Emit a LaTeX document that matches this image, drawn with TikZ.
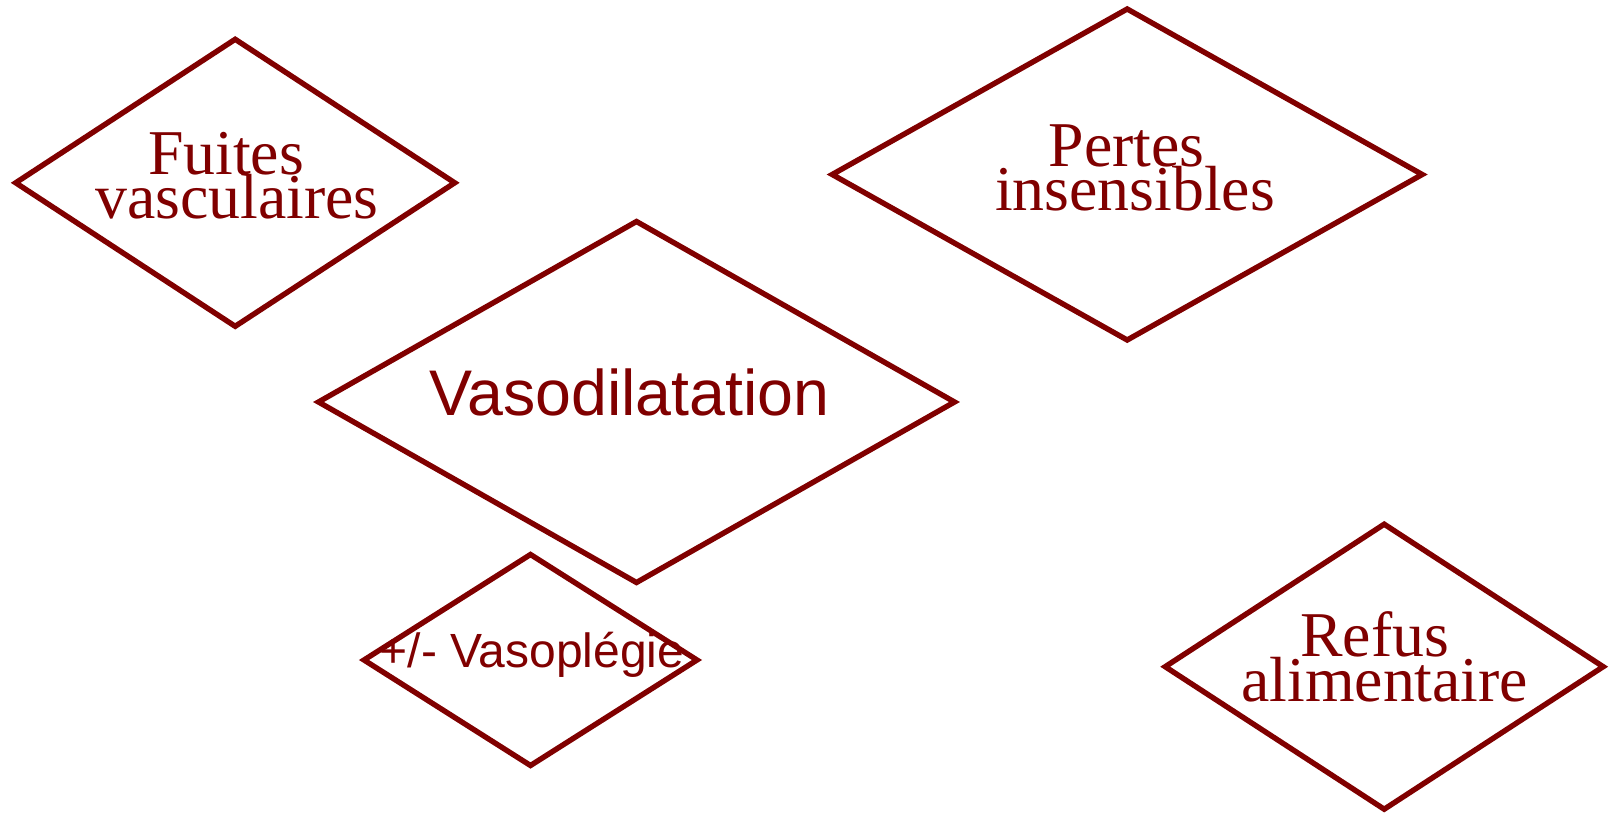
\documentclass[tikz,border=0pt]{standalone}
\usepackage{fontspec}
\setmainfont{Liberation Serif}
\newfontfamily\arialfont{Liberation Sans}
\usetikzlibrary{shapes.geometric}
\definecolor{dred}{HTML}{800000}
\begin{document}
\begin{tikzpicture}[x=1pt,y=-1pt,
  dbox/.style={diamond, draw=dred, line width=5.4pt, inner sep=0pt, outer sep=0pt, aspect=1},
  sertext/.style={anchor=base, inner sep=0pt, text=dred, font=\fontsize{63.8}{63.8}\selectfont},
  bigsans/.style={anchor=base, inner sep=0pt, text=dred, font=\arialfont\fontsize{64.5}{64.5}\selectfont},
  smallsans/.style={anchor=base, inner sep=0pt, text=dred, font=\arialfont\fontsize{48}{48}\selectfont}]
\useasboundingbox (0,0) rectangle (1612,813);
% diamonds
\node[dbox, minimum width=439pt, minimum height=287pt] (fuites) at (235.2,182.8) {};
\node[dbox, minimum width=590pt, minimum height=331pt] (pertes) at (1127.2,174.5) {};
\node[dbox, minimum width=636pt, minimum height=361pt] (vaso) at (636.5,402) {};
\node[dbox, minimum width=333pt, minimum height=211pt] (plegie) at (530.5,660) {};
\node[dbox, minimum width=438pt, minimum height=285pt] (refus) at (1384.2,666.7) {};
% texts
\node[sertext] (fuitesA) at (226,175) {Fuites};
\node[sertext] (fuitesB) at (237,219) {vasculaires};
\node[sertext] (pertesA) at (1126.6,167) {Pertes};
\node[sertext] (pertesB) at (1135,211) {insensibles};
\node[sertext] (refusA) at (1374.7,656.7) {Refus};
\node[sertext] (refusB) at (1384.7,701.7) {alimentaire};
\node[bigsans] (vasoT) at (629.3,415.7) {Vasodilatation};
\node[smallsans] (plegieT) at (532,667) {+/- Vasoplégie};
\end{tikzpicture}
\end{document}
